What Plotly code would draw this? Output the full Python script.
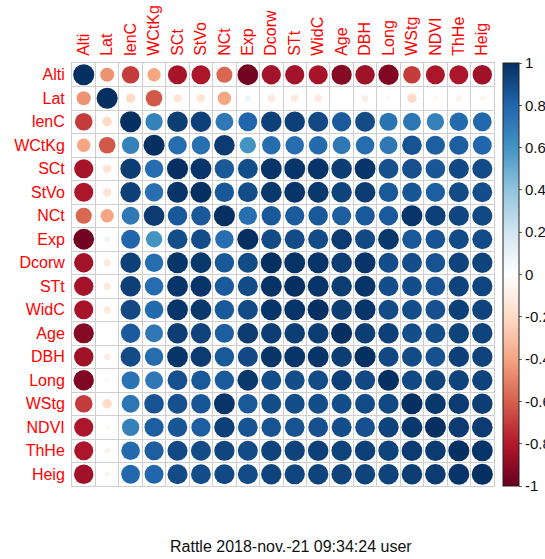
import numpy as np
import plotly.graph_objects as go

# Variable names (row/column order of the correlation matrix)
labels = ["Alti", "Lat", "lenC", "WCtKg", "SCt", "StVo", "NCt", "Exp", "Dcorw",
          "STt", "WidC", "Age", "DBH", "Long", "WStg", "NDVI", "ThHe", "Heig"]

# Pearson correlation matrix
corr = [
    [1.00, -0.45, -0.70, -0.40, -0.83, -0.82, -0.58, -0.97, -0.84, -0.84, -0.83, -0.92, -0.85, -0.93, -0.70, -0.82, -0.82, -0.85],
    [-0.45, 1.00, -0.20, -0.62, -0.15, -0.15, -0.40, 0.08, -0.12, -0.12, -0.12, -0.01, -0.10, 0.04, -0.20, -0.05, -0.08, -0.06],
    [-0.70, -0.20, 1.00, 0.68, 0.95, 0.94, 0.72, 0.80, 0.94, 0.94, 0.91, 0.84, 0.90, 0.74, 0.73, 0.68, 0.78, 0.79],
    [-0.40, -0.62, 0.68, 1.00, 0.77, 0.76, 0.96, 0.60, 0.77, 0.77, 0.78, 0.72, 0.77, 0.72, 0.87, 0.83, 0.83, 0.80],
    [-0.83, -0.15, 0.95, 0.77, 1.00, 0.98, 0.85, 0.89, 0.98, 0.98, 0.98, 0.95, 0.98, 0.88, 0.88, 0.86, 0.91, 0.90],
    [-0.82, -0.15, 0.94, 0.76, 0.98, 1.00, 0.85, 0.89, 0.97, 0.98, 0.97, 0.93, 0.96, 0.85, 0.86, 0.83, 0.90, 0.89],
    [-0.58, -0.40, 0.72, 0.96, 0.85, 0.85, 1.00, 0.76, 0.85, 0.84, 0.85, 0.83, 0.85, 0.84, 0.98, 0.94, 0.92, 0.91],
    [-0.97, 0.08, 0.80, 0.60, 0.89, 0.89, 0.76, 1.00, 0.90, 0.90, 0.90, 0.96, 0.91, 0.97, 0.85, 0.87, 0.90, 0.90],
    [-0.84, -0.12, 0.94, 0.77, 0.98, 0.97, 0.85, 0.90, 1.00, 0.99, 0.98, 0.95, 0.98, 0.89, 0.89, 0.87, 0.93, 0.93],
    [-0.84, -0.12, 0.94, 0.77, 0.98, 0.98, 0.84, 0.90, 0.99, 1.00, 0.98, 0.95, 0.98, 0.89, 0.89, 0.87, 0.93, 0.92],
    [-0.83, -0.12, 0.91, 0.78, 0.98, 0.97, 0.85, 0.90, 0.98, 0.98, 1.00, 0.95, 0.98, 0.90, 0.89, 0.88, 0.94, 0.93],
    [-0.92, -0.01, 0.84, 0.72, 0.95, 0.93, 0.83, 0.96, 0.95, 0.95, 0.95, 1.00, 0.95, 0.94, 0.89, 0.89, 0.93, 0.93],
    [-0.85, -0.10, 0.90, 0.77, 0.98, 0.96, 0.85, 0.91, 0.98, 0.98, 0.98, 0.95, 1.00, 0.91, 0.90, 0.88, 0.94, 0.93],
    [-0.93, 0.04, 0.74, 0.72, 0.88, 0.85, 0.84, 0.97, 0.89, 0.89, 0.90, 0.94, 0.91, 1.00, 0.91, 0.93, 0.93, 0.93],
    [-0.70, -0.20, 0.73, 0.87, 0.88, 0.86, 0.98, 0.85, 0.89, 0.89, 0.89, 0.89, 0.90, 0.91, 1.00, 0.97, 0.96, 0.95],
    [-0.82, -0.05, 0.68, 0.83, 0.86, 0.83, 0.94, 0.87, 0.87, 0.87, 0.88, 0.89, 0.88, 0.93, 0.97, 1.00, 0.96, 0.96],
    [-0.82, -0.08, 0.78, 0.83, 0.91, 0.90, 0.92, 0.90, 0.93, 0.93, 0.94, 0.93, 0.94, 0.93, 0.96, 0.96, 1.00, 0.98],
    [-0.85, -0.06, 0.79, 0.80, 0.90, 0.89, 0.91, 0.90, 0.93, 0.92, 0.93, 0.93, 0.93, 0.93, 0.95, 0.96, 0.98, 1.00],
]

colorbar_ticks = [1, 0.8, 0.6, 0.4, 0.2, 0, -0.2, -0.4, -0.6, -0.8, -1]
footer = "Rattle 2018-nov.-21 09:34:24 user"

# Diverging red-white-blue palette
rdbu = ["#67001F", "#B2182B", "#D6604D", "#F4A582", "#FDDBC7", "#FFFFFF",
        "#D1E5F0", "#92C5DE", "#4393C3", "#2166AC", "#053061"]
colorscale = [[i / (len(rdbu) - 1), c] for i, c in enumerate(rdbu)]

W, H = 545, 559
ML, MR, MT, MB = 72, 51, 63, 73
n = len(labels)
cell = (W - ML - MR) / n

mat = np.array(corr)
xs, ys, vals = [], [], []
for i in range(n):
    for j in range(n):
        xs.append(j)
        ys.append(i)
        vals.append(mat[i, j])
vals = np.array(vals)
# circle area proportional to |r|
sizes = 0.9 * np.sqrt(np.abs(vals)) * cell

fig = go.Figure()
fig.add_trace(go.Scatter(
    x=xs, y=ys, mode="markers",
    marker=dict(
        size=sizes, color=vals, colorscale=colorscale, cmin=-1, cmax=1,
        opacity=1, line=dict(width=0),
        colorbar=dict(
            thickness=16, len=1, lenmode="fraction", y=0.5, yanchor="middle",
            x=1.021, xanchor="left", xpad=0, ypad=0,
            outlinewidth=1, outlinecolor="#222222",
            tickvals=colorbar_ticks, ticktext=[f"{t:g}" for t in colorbar_ticks],
            ticks="outside", ticklen=3, tickcolor="#666666",
            tickfont=dict(family="Liberation Sans, Arial", size=15, color="#111111"),
        ),
    ),
    hoverinfo="skip", showlegend=False,
))

half = [k - 0.5 for k in range(n + 1)]
axis_common = dict(
    tickmode="array", tickvals=list(range(n)), ticktext=labels,
    tickfont=dict(family="Liberation Sans, Arial", size=16, color="#FF0000"),
    showgrid=False, zeroline=False,
    showline=True, mirror=True, linecolor="#CFCFCF", linewidth=1,
    ticks="outside", ticklen=3, tickcolor="rgba(0,0,0,0)",
    minor=dict(tickvals=half, showgrid=True, gridcolor="#CFCFCF", gridwidth=1, ticks=""),
    fixedrange=True,
)
fig.update_xaxes(range=[-0.5, n - 0.5], side="top", tickangle=-90, **axis_common)
fig.update_yaxes(range=[n - 0.5, -0.5], **axis_common)

fig.add_annotation(
    text=footer, xref="paper", yref="paper", x=0.518, y=-0.144,
    xanchor="center", yanchor="middle", showarrow=False,
    font=dict(family="Liberation Sans, Arial", size=16, color="#111111"),
)

fig.update_layout(
    width=W, height=H,
    margin=dict(l=ML, r=MR, t=MT, b=MB, autoexpand=False),
    plot_bgcolor="white", paper_bgcolor="white",
)

fig.write_html("out.html")
